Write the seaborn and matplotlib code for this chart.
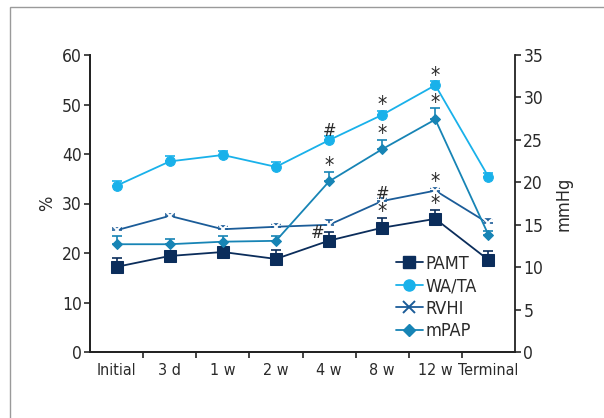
import numpy as np
import matplotlib
matplotlib.use('Agg')
import matplotlib.pyplot as plt
import seaborn as sns
import pandas as pd
from matplotlib.patches import Rectangle
from matplotlib.lines import Line2D

sns.set_style('ticks')
plt.rcParams['font.family'] = ['DejaVu Sans']
plt.rcParams['font.stretch'] = 'condensed'

# =============================================================================
# DATA
# =============================================================================

timepoints = ['Initial', '3 d', '1 w', '2 w', '4 w', '8 w', '12 w', 'Terminal']

pamt = [17.2, 19.4, 20.2, 18.8, 22.5, 25.1, 26.9, 18.6]          # %
pamt_err = [1.8, 0.5, 0.5, 1.8, 1.8, 2.0, 1.8, 1.8]
wata = [33.6, 38.5, 39.8, 37.4, 42.8, 47.9, 53.9, 35.4]          # %
wata_err = [1.0, 1.0, 0.9, 0.9, 0.9, 0.8, 0.8, 0.8]
rvhi = [24.6, 27.5, 24.8, 25.3, 25.7, 30.5, 32.6, 26.0]          # %
rvhi_err = [0.5, 0.4, 0.7, 0.6, 0.9, 0.6, 0.6, 0.8]
mpap = [12.7, 12.7, 13.0, 13.1, 20.1, 23.9, 27.4, 13.8]          # mmHg
mpap_err = [0.95, 0.6, 0.7, 0.6, 1.1, 1.1, 1.3, 0.5]

# significance marks: (series, index, symbol)
marks_left = [('wata', 4, '#'), ('wata', 5, '*'), ('wata', 6, '*'),
              ('rvhi', 5, '#'), ('rvhi', 6, '*'),
              ('pamt', 5, '*'), ('pamt', 6, '*')]
marks_right = [('mpap', 4, '*'), ('mpap', 5, '*'), ('mpap', 6, '*')]

C_PAMT = '#0b2d5b'
C_WATA = '#19b1ea'
C_RVHI = '#1b5c98'
C_MPAP = '#1784b5'
C_TEXT = '#2a2a2a'

x = np.arange(len(timepoints))

fig = plt.figure(figsize=(6.04, 4.18), dpi=100)
ax = fig.add_axes([90 / 604, 1 - 352 / 418, 425 / 604, 297 / 418])
ax2 = ax.twinx()

# outer frame
fig.patches.append(Rectangle((10 / 604, -0.1), 1.2, 1 - 7 / 418 + 0.1,
                             transform=fig.transFigure, fill=False,
                             edgecolor='#9a9a9a', lw=1.0))

df_left = pd.DataFrame({'x': np.tile(x, 3),
                        'v': pamt + wata + rvhi,
                        's': ['PAMT'] * 8 + ['WA/TA'] * 8 + ['RVHI'] * 8})
df_right = pd.DataFrame({'x': x, 'v': mpap, 's': ['mPAP'] * 8})

# error bars (upper only)
for vals, errs, col, a in [(wata, wata_err, C_WATA, ax), (rvhi, rvhi_err, C_RVHI, ax),
                           (pamt, pamt_err, C_PAMT, ax), (mpap, mpap_err, C_MPAP, ax2)]:
    a.errorbar(x, vals, yerr=[np.zeros(8), errs], fmt='none', ecolor=col,
               elinewidth=1.2, capsize=3.5, capthick=1.2, zorder=2)

sns.lineplot(data=df_right, x='x', y='v', color=C_MPAP, marker='D', markersize=5,
             markeredgecolor=C_MPAP, lw=1.3, ax=ax2, legend=False, zorder=3)
sns.lineplot(data=df_left[df_left.s == 'RVHI'], x='x', y='v', color=C_RVHI, marker='x',
             markersize=8, markeredgewidth=1.4, lw=1.3, ax=ax, legend=False, zorder=3)
sns.lineplot(data=df_left[df_left.s == 'WA/TA'], x='x', y='v', color=C_WATA, marker='o',
             markersize=7, markeredgecolor=C_WATA, lw=1.3, ax=ax, legend=False, zorder=3)
sns.lineplot(data=df_left[df_left.s == 'PAMT'], x='x', y='v', color=C_PAMT, marker='s',
             markersize=8, markeredgecolor=C_PAMT, lw=1.3, ax=ax, legend=False, zorder=3)

series_left = {'wata': (wata, wata_err), 'rvhi': (rvhi, rvhi_err), 'pamt': (pamt, pamt_err)}
for name, i, sym in marks_left:
    v, e = series_left[name]
    ax.text(x[i], v[i] + e[i] - 0.9, sym, ha='center', va='bottom',
            fontsize=15 if sym == '*' else 13, color=C_TEXT)
ax.text(x[4] - 0.1, pamt[4] - 0.3, '#', ha='right', va='bottom', fontsize=13, color=C_TEXT)
for name, i, sym in marks_right:
    ax2.text(x[i], mpap[i] + mpap_err[i] - 0.5, sym, ha='center', va='bottom',
             fontsize=15, color=C_TEXT)

# axes
ax.set_xlim(-0.5, 7.5)
ax.set_ylim(0, 60)
ax2.set_ylim(0, 35)
ax.set_yticks(range(0, 61, 10))
ax2.set_yticks(range(0, 36, 5))
ax.set_xticks(x[:-1] + 0.5)
ax.set_xticklabels([])
ax.set_xticks(x, minor=True)
ax.set_xticklabels(timepoints, minor=True)
ax.tick_params(axis='x', which='minor', length=0, pad=8, labelsize=11.5, colors=C_TEXT)
ax.tick_params(axis='x', which='major', length=4, width=1.2)
for a in (ax, ax2):
    a.tick_params(axis='y', length=4, width=1.2, pad=2, labelsize=12.5, colors=C_TEXT)
    for sp in a.spines.values():
        sp.set_linewidth(1.3)
        sp.set_color('#222222')
    a.spines['top'].set_visible(False)
ax.tick_params(axis='x', which='major', colors='#222222')
ax.spines['right'].set_visible(False)
ax.set_xlabel('')
ax.set_ylabel('%', fontsize=13, labelpad=4, color=C_TEXT)
ax2.set_ylabel('mmHg', fontsize=13, labelpad=8, color=C_TEXT)
ax2.set_xlabel('')

handles = [
    Line2D([], [], color=C_PAMT, marker='s', markersize=9, lw=1.3),
    Line2D([], [], color=C_WATA, marker='o', markersize=8, lw=1.3),
    Line2D([], [], color=C_RVHI, marker='x', markersize=9, markeredgewidth=1.4, lw=1.3),
    Line2D([], [], color=C_MPAP, marker='D', markersize=6, lw=1.3),
]
leg = ax.legend(handles, ['PAMT', 'WA/TA', 'RVHI', 'mPAP'], loc='upper left',
                bbox_to_anchor=(0.69, 0.37), frameon=False, fontsize=13,
                handlelength=1.5, handletextpad=0.15, labelspacing=0.25, borderpad=0.2)
for t in leg.get_texts():
    t.set_color(C_TEXT)

fig.savefig('out.png', dpi=100)
